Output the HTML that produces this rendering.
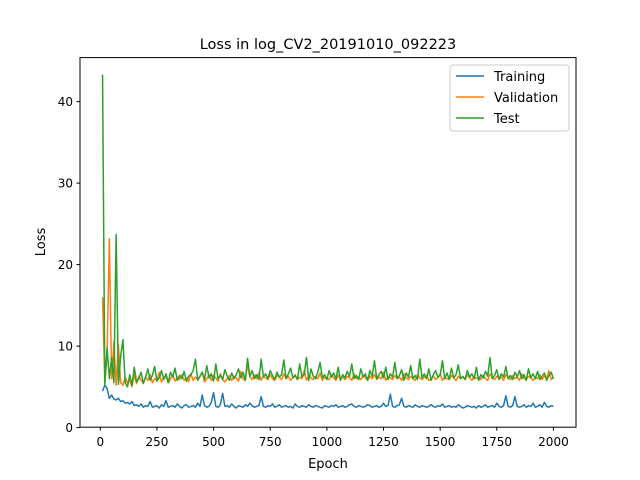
<!DOCTYPE html>
<html><head><meta charset="utf-8"><style>
body{margin:0;background:#fff}
svg{font-family:"DejaVu Sans","Liberation Sans",sans-serif;display:block}
</style></head><body>
<svg id="chart" width="640" height="480">
<rect x="0" y="0" width="640" height="480" fill="#fff"/>
<text x="328" y="49" font-size="14.5" text-anchor="middle">Loss in log_CV2_20191010_092223</text>
<g id="plot"></g>
<rect x="80" y="57.6" width="496" height="369.6" fill="none" stroke="#000" stroke-width="1"/>
<g id="xt" font-size="12" text-anchor="middle"></g>
<g id="yt" font-size="12" text-anchor="end"></g>
<text x="328" y="468" font-size="13" text-anchor="middle">Epoch</text>
<text transform="translate(45,242) rotate(-90)" font-size="13" text-anchor="middle">Loss</text>
<g>
<rect x="450" y="65" width="119" height="66" rx="3" fill="#fff" fill-opacity="0.8" stroke="#ccc"/>
<g><line x1="456" y1="76" x2="484" y2="76" stroke="#1f77b4" stroke-width="1.5"/><text x="494" y="81" font-size="13">Training</text></g>
<g><line x1="456" y1="97" x2="484" y2="97" stroke="#ff7f0e" stroke-width="1.5"/><text x="494" y="102" font-size="13">Validation</text></g>
<g><line x1="456" y1="118" x2="484" y2="118" stroke="#2ca02c" stroke-width="1.5"/><text x="494" y="123" font-size="13">Test</text></g>
</g>
</svg>
<script>
const xTicks=[0,250,500,750,1000,1250,1500,1750,2000];
const yTicks=[0,10,20,30,40];
const training=[4.5,5.2,4.8,3.6,4.0,3.5,3.4,3.6,3.2,3.3,3.0,3.1,2.9,3.2,2.7,2.8,2.6,2.9,2.5,2.7,
2.6,3.2,2.5,2.6,2.7,2.4,2.8,2.6,3.3,2.5,2.6,2.7,2.5,2.9,2.6,2.4,2.7,2.8,2.5,2.6,
2.7,2.5,3.0,2.6,4.0,2.7,2.5,2.6,3.1,4.3,2.6,2.5,2.8,4.2,2.6,2.7,2.5,2.9,2.6,2.4,
2.7,2.6,2.5,2.8,2.6,3.0,2.7,2.5,2.6,2.7,3.8,2.6,2.5,2.7,2.6,2.9,2.5,2.6,2.8,2.5,
2.6,2.7,2.5,2.6,2.4,2.9,2.6,2.5,2.7,2.6,2.5,2.8,2.6,2.5,2.7,2.6,2.5,2.4,2.7,2.6,
2.5,2.7,2.6,2.8,2.5,2.6,2.7,2.5,2.6,2.8,2.9,2.6,2.5,2.7,2.6,2.5,2.6,2.8,2.7,2.5,
2.6,2.7,2.5,2.6,3.0,2.6,2.7,4.1,2.6,2.5,2.7,2.8,3.6,2.6,2.5,2.7,2.6,2.5,2.8,2.6,
2.5,2.7,2.6,2.5,2.6,2.8,2.6,2.5,2.7,2.6,2.9,2.5,2.6,2.7,2.5,2.6,2.5,2.8,2.6,2.4,
2.5,2.7,2.6,2.5,2.6,2.4,2.7,2.5,2.6,2.8,2.5,2.6,2.7,2.5,3.0,2.6,2.5,2.7,3.9,2.6,
2.5,2.7,3.8,2.6,2.5,2.6,2.8,2.5,2.7,2.6,3.0,2.5,2.6,2.8,2.5,3.1,2.6,2.5,2.7,2.6];
const validation=[16,5.5,9,23.2,6,10.5,5.2,10.2,5.5,5.2,6.2,5.5,5.8,5.0,6.5,5.4,6.3,5.8,5.5,6.2,
5.8,6.5,5.5,6.0,5.9,6.8,5.6,6.1,6.3,5.5,6.0,6.4,5.7,6.2,5.9,6.5,5.8,6.1,5.6,6.6,
5.8,6.2,5.9,6.3,6.8,5.6,6.0,6.5,5.8,6.4,6.1,5.7,6.6,5.9,5.6,6.0,6.4,5.8,6.3,6.1,
5.7,6.9,6.0,5.8,7.8,6.2,5.9,6.5,6.0,6.7,5.8,6.3,6.1,5.9,6.5,6.0,5.8,6.4,6.2,5.9,
6.6,6.0,6.3,5.8,6.1,6.5,5.9,6.2,6.0,7.0,5.8,6.4,6.1,5.9,6.3,6.0,6.7,5.8,6.2,6.0,
5.9,6.5,6.1,5.8,6.4,6.0,6.2,5.9,6.3,6.1,5.8,6.6,6.0,6.2,5.9,6.4,6.1,5.8,6.3,6.0,
6.5,5.9,6.2,6.0,6.8,5.8,6.3,6.1,5.9,6.4,6.0,6.2,5.8,6.6,6.1,5.9,6.3,6.0,5.8,6.5,
6.1,5.9,6.2,6.4,5.8,6.0,6.3,5.9,6.1,6.6,5.8,6.2,6.0,5.9,6.4,6.1,5.8,6.3,6.0,6.2,
5.9,6.5,6.1,5.8,6.3,6.0,6.2,5.9,6.4,6.0,5.8,6.6,6.1,5.9,6.3,6.0,6.2,5.8,6.5,6.1,
5.9,6.4,6.0,6.2,5.8,6.6,6.0,5.9,6.3,6.1,5.8,6.2,6.0,6.5,5.9,6.3,6.1,7.0,5.9,6.2];
const test=[43.3,5.2,9.8,6,8.6,5.5,23.7,5.3,8.8,10.8,5.5,5.0,6.5,5.2,7.4,5.6,6.0,6.8,5.4,6.2,
7.2,5.8,6.4,7.5,5.7,6.1,7.0,5.9,6.6,5.5,6.8,6.2,7.3,5.8,6.4,6.0,6.9,5.7,6.3,6.5,
7.0,8.4,5.8,6.3,6.8,5.9,7.6,6.1,6.6,5.7,7.8,6.0,6.4,5.9,7.1,6.3,5.8,6.7,6.0,6.5,
7.2,6.1,6.8,5.8,8.5,6.3,7.0,6.0,6.5,5.9,8.4,6.2,6.6,6.0,7.0,6.4,5.9,6.8,6.2,6.5,
8.3,6.0,6.6,7.3,6.1,6.4,5.9,7.8,6.2,6.5,8.6,5.8,7.2,6.3,6.0,6.8,8.0,6.1,6.5,5.9,
7.0,6.2,6.7,6.0,7.4,5.8,6.5,6.1,6.9,6.3,7.8,6.0,6.4,5.9,7.2,6.2,6.6,5.8,7.0,6.3,
8.2,6.0,6.5,6.9,6.1,7.4,5.9,6.6,6.2,8.0,6.0,6.4,7.1,5.8,6.7,6.2,7.6,6.0,6.4,5.9,
8.4,6.1,6.6,6.0,7.2,5.8,6.5,7.0,6.2,6.4,8.2,6.0,6.7,5.9,7.3,6.1,6.5,7.7,6.0,6.3,
5.9,7.0,6.2,6.6,6.0,7.4,5.8,6.5,6.1,6.9,6.3,8.6,6.0,6.4,7.1,5.9,6.6,6.2,7.5,6.0,
6.4,5.9,6.8,6.2,7.0,6.0,6.5,5.8,7.2,6.1,6.6,6.0,6.9,5.9,6.3,6.7,5.8,6.4,6.8,6.0];
const epochStart=10, epochStep=10;
const NS="http://www.w3.org/2000/svg";
function xs(v){return 80+(v+89.5)/2189*496;}
function ys(v){return 427.2-(v-0.05)/45.35*369.6;}
const plot=document.getElementById('plot');
function drawLine(arr,color,name){
  const pts=arr.map((v,i)=>xs(epochStart+i*epochStep).toFixed(2)+","+ys(v).toFixed(2)).join(" ");
  const pl=document.createElementNS(NS,'polyline');
  pl.setAttribute('points',pts);pl.setAttribute('fill','none');pl.setAttribute('stroke',color);pl.setAttribute('stroke-width','1.5');pl.setAttribute('stroke-linejoin','round');
  
  
  plot.appendChild(pl);
}
drawLine(training,'#1f77b4','training-line');
drawLine(validation,'#ff7f0e','validation-line');
drawLine(test,'#2ca02c','test-line');
const xt=document.getElementById('xt');
xTicks.forEach(t=>{
  const x=xs(t);
  const l=document.createElementNS(NS,'line');
  l.setAttribute('x1',x);l.setAttribute('x2',x);l.setAttribute('y1',427.2);l.setAttribute('y2',430.7);l.setAttribute('stroke','#000');
  
  
  xt.appendChild(l);
  const tx=document.createElementNS(NS,'text');
  tx.setAttribute('x',x);tx.setAttribute('y',446);tx.textContent=t;
  
  
  xt.appendChild(tx);
});
const yt=document.getElementById('yt');
yTicks.forEach(t=>{
  const y=ys(t);
  const l=document.createElementNS(NS,'line');
  l.setAttribute('x1',76.5);l.setAttribute('x2',80);l.setAttribute('y1',y);l.setAttribute('y2',y);l.setAttribute('stroke','#000');
  
  
  yt.appendChild(l);
  const tx=document.createElementNS(NS,'text');
  tx.setAttribute('x',73);tx.setAttribute('y',y+4.5);tx.textContent=t;
  
  
  yt.appendChild(tx);
});
</script>
</body></html>
